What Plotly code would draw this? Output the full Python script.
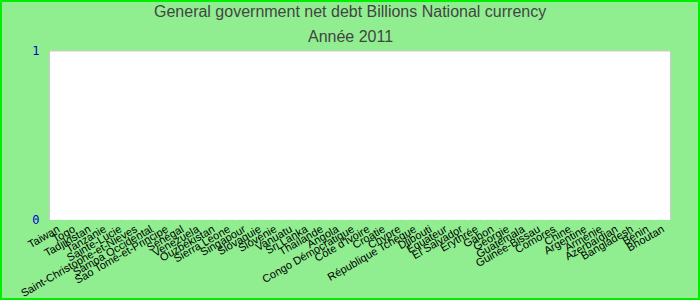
import plotly.graph_objects as go

categories = ["Taiwan", "Togo", "Tadjikistan", "Tanzanie", "Sainte-Lucie",
              "Saint-Christophe-et-Nieves", "Samoa Occidental", "Sao Tomé-et-Principe",
              "Sénégal", "Venezuela", "Ouzbékistan", "Sierra Leone", "Singapour",
              "Slovaquie", "Slovénie", "Vanuatu", "Sri Lanka", "Thaïlande", "Angola",
              "Congo Démocratique", "Côte d'Ivoire", "Croatie", "Chypre",
              "République Tchèque", "Djibouti", "Equateur", "El Salvador", "Erythrée",
              "Gabon", "Géorgie", "Guatemala", "Guinée-Bissau", "Comores", "Chine",
              "Argentine", "Arménie", "Azerbaïdjan", "Bangladesh", "Bénin", "Bhoutan"]
values = [0] * len(categories)
y_ticks = [0, 1]
title_line1 = "General government net debt Billions National currency"
title_line2 = "Année 2011"

W, H = 700, 300
L, R, T, B = 50, 30, 51, 80
pw, ph = W - L - R, H - T - B

fig = go.Figure(go.Bar(x=categories, y=values, marker_color="#4572A7"))

def px_to_paper_x(px):
    return (px - L) / pw

def px_to_paper_y(py):
    return (H - B - py) / ph

fig.update_layout(
    width=W, height=H,
    margin=dict(l=L, r=R, t=T, b=B, autoexpand=False),
    paper_bgcolor="#90EE90",
    plot_bgcolor="#FFFFFF",
    font=dict(family="Liberation Sans, Arial, sans-serif", size=11, color="#000000"),
    showlegend=False,
    xaxis=dict(type="category", tickmode="linear", dtick=1, tickangle=-30,
               showgrid=False, showline=False, automargin=False,
               ticks="", tickfont=dict(size=11, color="#000000")),
    yaxis=dict(range=[0, 1], tickvals=y_ticks, showgrid=False, zeroline=False,
               showline=True, linecolor="#CCCCCC", mirror=True, ticks="", automargin=False,
               tickfont=dict(size=12, color="#0000CC", family="DejaVu Sans Mono, monospace"),
               ticklabelstandoff=7),
    annotations=[
        dict(text=title_line1, x=px_to_paper_x(350), y=px_to_paper_y(12), xref="paper", yref="paper",
             showarrow=False, xanchor="center", yanchor="middle",
             font=dict(size=16, color="#444444", family="Liberation Sans, Arial, sans-serif")),
        dict(text=title_line2, x=px_to_paper_x(350), y=px_to_paper_y(36), xref="paper", yref="paper",
             showarrow=False, xanchor="center", yanchor="middle",
             font=dict(size=16, color="#444444", family="Liberation Sans, Arial, sans-serif")),
    ],
    shapes=[
        dict(type="line", xref="paper", yref="paper", x0=0, x1=1, y0=1, y1=1,
             line=dict(color="#CCCCCC", width=1), layer="above"),
        dict(type="rect", xref="paper", yref="paper",
             x0=px_to_paper_x(1), x1=px_to_paper_x(W - 1),
             y0=px_to_paper_y(H - 1), y1=px_to_paper_y(1),
             line=dict(color="#00EE00", width=2), layer="above"),
    ],
)

fig.write_html("out.html")
